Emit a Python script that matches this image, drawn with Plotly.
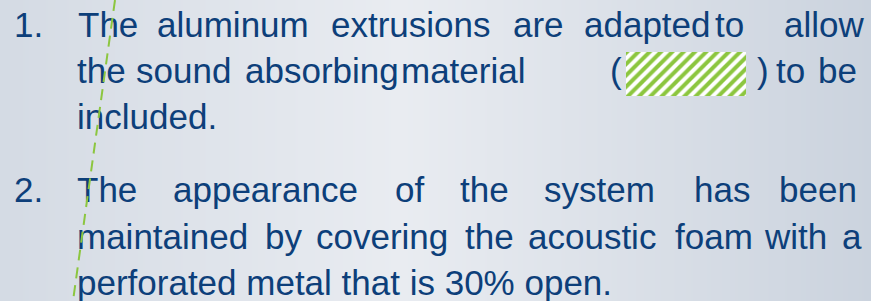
import plotly.graph_objects as go

# ---- content ----
numbers = ["1.", "2."]
numbers_x = [14, 14]
numbers_line = [0, 3]

line_words = [
    ["The", "aluminum", "extrusions", "are", "adapted", "to", "allow"],
    ["the", "sound", "absorbing", "material", "(", ")", "to", "be"],
    ["included."],
    ["The", "appearance", "of", "the", "system", "has", "been"],
    ["maintained", "by", "covering", "the", "acoustic", "foam", "with", "a"],
    ["perforated metal that is 30% open."],
]
line_x = [
    [78, 157, 331, 513, 584, 715, 784],
    [77, 136, 245, 401, 610, 757, 776, 818],
    [77],
    [77, 173, 395, 460, 544, 694, 779],
    [77, 265, 316, 465, 528, 675, 765, 842],
    [77],
]
baselines = [37, 83, 129, 202, 249, 295]

# hatched swatch (sound absorbing material)
swatch_center = [686]
swatch_width = [120]
swatch_top = [52]
swatch_height = [44]

# dashed guide line
guide_x = [115, 73]
guide_y = [0, 301]

FONT = "Liberation Sans, Arial, sans-serif"
FS = 35
TEXT_COLOR = "#0d3f7a"
GREEN = "#8cc63f"
W, H = 871, 301
shift = 0.25 * FS

fig = go.Figure()

# background gradient
fig.add_trace(go.Heatmap(
    z=[[0.3, 1.0, 0.0], [0.3, 1.0, 0.0]],
    x=[0, 400, W], y=[0, H],
    zsmooth="best", showscale=False, hoverinfo="skip",
    colorscale=[[0, "#cbd3de"], [1, "#e9ecf1"]], zmin=0, zmax=1,
))

# hatched swatch
fig.add_trace(go.Bar(
    x=swatch_center, y=swatch_height, base=swatch_top, width=swatch_width,
    marker=dict(color="white", line=dict(width=0),
                pattern=dict(shape="/", fgcolor=GREEN, bgcolor="white",
                             size=8, solidity=0.5, fgopacity=1,
                             fillmode="replace")),
    hoverinfo="skip",
))

# text lines
xs, ys, ts = [], [], []
for words, xpos, b in zip(line_words, line_x, baselines):
    for w, x in zip(words, xpos):
        xs.append(x); ys.append(b - shift); ts.append(w)
for n, x, li in zip(numbers, numbers_x, numbers_line):
    xs.append(x); ys.append(baselines[li] - shift); ts.append(n)

fig.add_trace(go.Scatter(
    x=xs, y=ys, text=ts, mode="text", textposition="middle right",
    textfont=dict(family=FONT, size=FS, color=TEXT_COLOR),
    hoverinfo="skip", cliponaxis=False,
))

# dashed green guide line
fig.add_trace(go.Scatter(
    x=guide_x, y=guide_y, mode="lines",
    line=dict(color=GREEN, width=2, dash="11px,7px"),
    hoverinfo="skip",
))

fig.update_layout(
    width=W, height=H, margin=dict(l=0, r=0, t=0, b=0),
    paper_bgcolor="#dde2ea", plot_bgcolor="#dde2ea",
    showlegend=False, hovermode=False, barmode="overlay",
    xaxis=dict(range=[0, W], visible=False, fixedrange=True),
    yaxis=dict(range=[H, 0], visible=False, fixedrange=True),
)

fig.write_html(
    "out.html",
    config={"displayModeBar": False, "staticPlot": True},
    post_script="document.body.style.margin='0';document.body.style.overflow='hidden';",
)
